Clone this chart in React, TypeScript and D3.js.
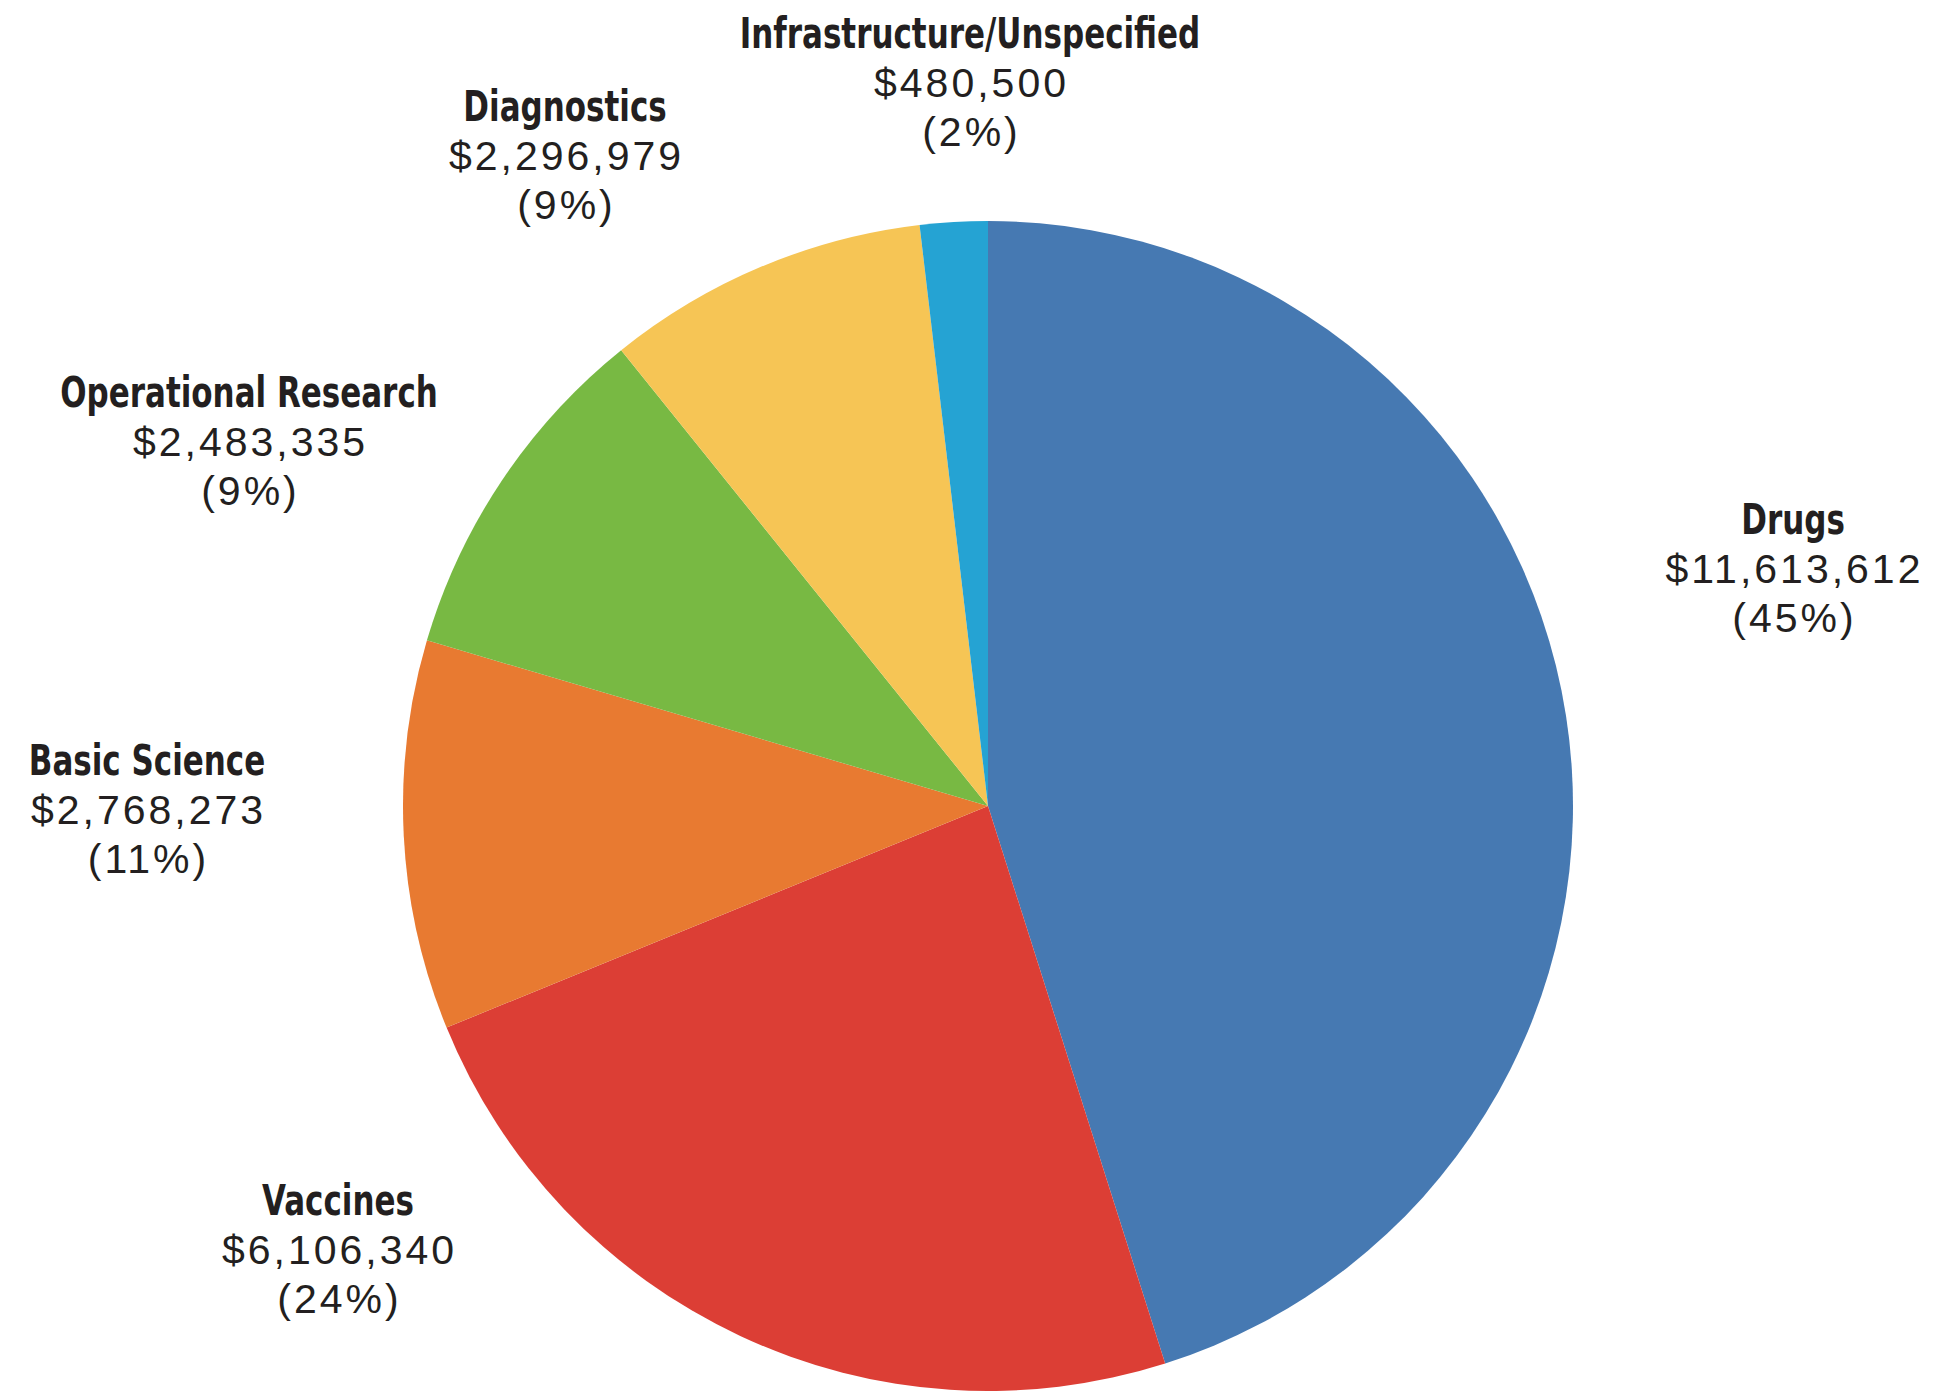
import React from "react";
import * as d3 from "d3";

const categories = [
  "Drugs",
  "Vaccines",
  "Basic Science",
  "Operational Research",
  "Diagnostics",
  "Infrastructure/Unspecified",
];
const values = [11613612, 6106340, 2768273, 2483335, 2296979, 480500];
const percentLabels = ["45%", "24%", "11%", "9%", "9%", "2%"];
const colors = ["#4679B2", "#DC3E35", "#E87A31", "#78B943", "#F6C555", "#25A3D3"];

// label layout (center x, first baseline y) in pixels
const labelLayout: [number, number][] = [
  [1793, 533],
  [338, 1214],
  [147, 774],
  [249, 406],
  [565, 120],
  [970, 47],
];

const W = 1935;
const H = 1395;
const CX = 988;
const CY = 806;
const R = 585;

export default function App() {
  const pie = d3
    .pie<number>()
    .sort(null)
    .value((d) => d)
    .startAngle(0)
    .endAngle(2 * Math.PI);
  const arcs = pie(values);
  const arc = d3.arc<d3.PieArcDatum<number>>().innerRadius(0).outerRadius(R);
  const fmt = d3.format("$,");
  const lineGap = 49.5;
  const titleScale = 0.82;

  return (
    <div style={{ position: "absolute", left: 0, top: 0 }}>
      <svg width={W} height={H} viewBox={`0 0 ${W} ${H}`} style={{ display: "block", background: "#fff" }}>
        <g transform={`translate(${CX},${CY})`}>
          {arcs.map((a, i) => (
            <path key={i} d={arc(a) || ""} fill={colors[i]} />
          ))}
        </g>
        {categories.map((c, i) => {
          const [x, y] = labelLayout[i];
          return (
            <g key={c} fill="#231F20" textAnchor="middle">
              <g transform={`translate(${x},${y + 1}) scale(${titleScale},1)`}>
                <text
                  x={0}
                  y={0}
                  fontFamily="'DejaVu Sans Condensed', 'Liberation Sans Narrow', sans-serif"
                  fontWeight="bold"
                  fontSize={42}
                >
                  {c}
                </text>
              </g>
              <text
                x={x + 1.5}
                y={y + lineGap}
                fontFamily="'Liberation Sans', Arial, sans-serif"
                fontSize={41}
                letterSpacing={3}
              >
                {fmt(values[i])}
              </text>
              <text
                x={x + 1.5}
                y={y + 2 * lineGap}
                fontFamily="'Liberation Sans', Arial, sans-serif"
                fontSize={41}
                letterSpacing={3}
              >
                {`(${percentLabels[i]})`}
              </text>
            </g>
          );
        })}
      </svg>
    </div>
  );
}
